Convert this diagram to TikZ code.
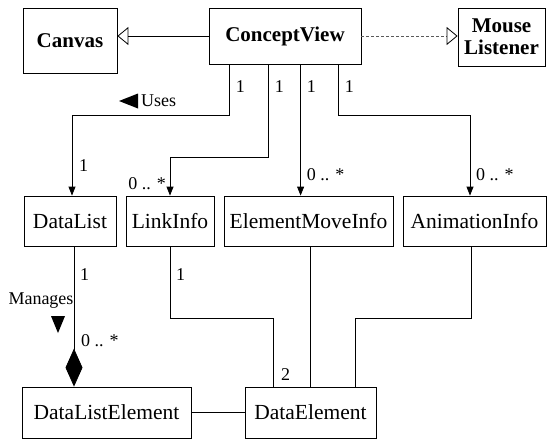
\documentclass[tikz,border=0pt]{standalone}
\usepackage{fontspec}
\setmainfont{Liberation Serif}
\usetikzlibrary{positioning,arrows.meta,calc}

\begin{document}
\begin{tikzpicture}[
  x=1pt, y=1pt,
  every node/.style={font=\fontsize{21.5}{22}\selectfont},
  classBox/.style={draw, line width=0.8pt, inner sep=0pt, align=center},
  topBox/.style={classBox, font=\fontsize{21}{22}\selectfont\bfseries},
  mult/.style={font=\fontsize{18}{20}\selectfont, inner sep=1pt},
  link/.style={line width=0.8pt},
  navArrow/.style={link, -{Triangle[length=9pt,width=7pt]}},
  genArrow/.style={link, -{Triangle[open,length=11pt,width=18pt]}},
  realArrow/.style={line width=0.8pt, densely dashed, black!65,
    -{Triangle[open,length=11pt,width=18pt,color=black]}}
]
  \useasboundingbox (0,0) rectangle (547,-440);

  % Top row
  \node[topBox, minimum width=94pt, minimum height=65pt] (canvas) at (70,-40.5) {Canvas};
  \node[topBox, minimum width=152pt, minimum height=56pt] (cv) at (285,-36) {ConceptView};
  \node[topBox, minimum width=87pt, minimum height=58pt] (ml) at (501.5,-37) {Mouse\\Listener};

  % Middle row
  \node[classBox, minimum width=92pt, minimum height=50pt] (dl) at (70,-221) {DataList};
  \node[classBox, minimum width=88pt, minimum height=50pt] (li) at (170,-221) {LinkInfo};
  \node[classBox, minimum width=169pt, minimum height=50pt] (emi) at (308.5,-221) {ElementMoveInfo};
  \node[classBox, minimum width=143pt, minimum height=50pt] (ai) at (474.5,-221) {AnimationInfo};

  % Bottom row
  \node[classBox, minimum width=169pt, minimum height=51pt] (dle) at (106.5,-412.5) {DataListElement};
  \node[classBox, minimum width=131pt, minimum height=51pt] (de) at (310.5,-412.5) {DataElement};

  % Inheritance
  \draw[genArrow] (cv.west) -- (cv.west -| canvas.east);
  \draw[realArrow] (cv.east) -- (cv.east -| ml.west);

  % Uses associations
  \coordinate (cvA) at ([xshift=21pt]cv.south west);
  \coordinate (cvB) at ([xshift=60pt]cv.south west);
  \coordinate (cvC) at ([xshift=92pt]cv.south west);
  \coordinate (cvD) at ([xshift=130pt]cv.south west);
  \coordinate (bendA) at (72,-115);
  \coordinate (bendB) at (170,-157);
  \coordinate (bendC) at (470,-115);
  \draw[navArrow] (cvA) |- (bendA) -- (bendA |- dl.north);
  \draw[navArrow] (cvB) |- (bendB) -- (bendB |- li.north);
  \draw[navArrow] (cvC) -- (cvC |- emi.north);
  \draw[navArrow] (cvD) |- (bendC) -- (bendC |- ai.north);

  \node[mult, anchor=west] (oneA) at ([xshift=5pt,yshift=-22pt]cvA) {1};
  \node[mult, anchor=west] (oneB) at ([xshift=5pt,yshift=-22pt]cvB) {1};
  \node[mult, anchor=west] (oneC) at ([xshift=5pt,yshift=-22pt]cvC) {1};
  \node[mult, anchor=west] (oneD) at ([xshift=5pt,yshift=-22pt]cvD) {1};
  \node[mult, anchor=west] (uses) at (140,-101) {Uses};
  \fill ([xshift=-21pt]uses.west) -- ++(19,7.5) -- ++(0,-15) -- cycle;

  \node[mult, anchor=west] (oneDl) at ([xshift=6pt,yshift=30pt]bendA |- dl.north) {1};
  \node[mult, anchor=east] (manyLi) at ([xshift=-3pt,yshift=12pt]bendB |- li.north) {0 .. *};
  \node[mult, anchor=west] (manyEmi) at ([xshift=5pt,yshift=21pt]cvC |- emi.north) {0 .. *};
  \node[mult, anchor=west] (manyAi) at ([xshift=5pt,yshift=21pt]bendC |- ai.north) {0 .. *};

  % Manages composition
  \coordinate (dlFoot) at ([xshift=4pt]dl.south);
  \draw[link, -{Diamond[length=38pt,width=17pt]}] (dlFoot) -- (dlFoot |- dle.north);
  \node[mult, anchor=west] (oneMg) at ([xshift=5pt,yshift=-28pt]dlFoot) {1};
  \node[mult] (manages) at (41,-301) {Manages};
  \fill ([xshift=10pt,yshift=-6pt]manages.south) -- ++(14,0) -- ++(-7,-17) -- cycle;
  \node[mult, anchor=west] (manyMg) at (80,-341) {0 .. *};

  % Info classes to DataElement
  \coordinate (bendD) at (170,-318);
  \coordinate (bendE) at (471,-318);
  \coordinate (deA) at ([xshift=-37.5pt]de.north);
  \coordinate (deC) at ([xshift=44.5pt]de.north);
  \draw[link] (li.south) -- (bendD) -| (deA);
  \draw[link] (emi.south -| de.north) -- (de.north);
  \draw[link] (bendE |- ai.south) -- (bendE) -| (deC);
  \node[mult, anchor=west] (oneLi) at ([xshift=5pt,yshift=-28pt]li.south) {1};
  \node[mult, anchor=west] (twoDe) at ([xshift=7pt,yshift=12pt]deA) {2};

  \draw[link] (dle.east) -- (de.west);
\end{tikzpicture}
\end{document}
